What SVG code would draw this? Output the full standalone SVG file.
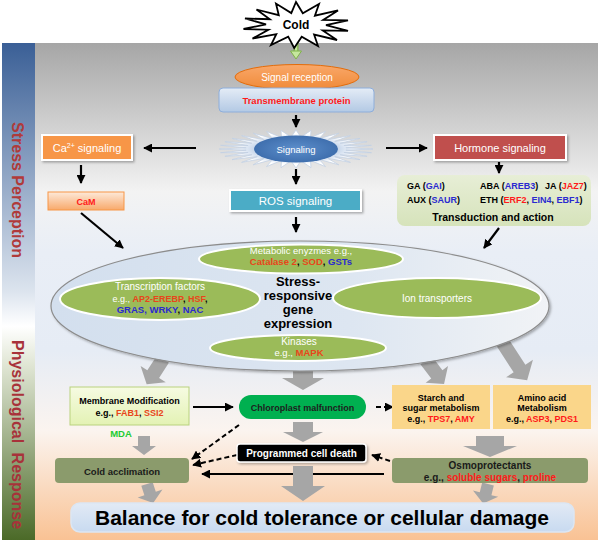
<svg xmlns="http://www.w3.org/2000/svg" width="600" height="542" viewBox="0 0 600 542">
<defs>
<style>
text{font-family:"Liberation Sans",Arial,sans-serif;}
.w{fill:#fff}
.c{text-anchor:middle}
.b{font-weight:bold}
.red{fill:#e8461b;font-weight:bold}
.rr{fill:#ff1a1a;font-weight:bold}
.bl{fill:#2a2ad0;font-weight:bold}
.k{fill:#000}
.line{stroke:#000;stroke-width:2.2;fill:none;marker-end:url(#ah)}
.dash{stroke:#000;stroke-width:2;fill:none;stroke-dasharray:5,3;marker-end:url(#ah)}
.ga{fill:#a6a6a6}
.gel{fill:#9bbb59;stroke:#fff;stroke-width:2}
.olive{fill:#8b9b6c}
</style>
<marker id="ah" viewBox="0 0 10 10" refX="9" refY="5" markerWidth="9" markerHeight="9" markerUnits="userSpaceOnUse" orient="auto"><path d="M0,0L10,5L0,10Z" fill="#000"/></marker>
<linearGradient id="bg" x1="0" y1="0" x2="0" y2="1">
<stop offset="0" stop-color="#a6a6a6"/><stop offset="0.3" stop-color="#f3f3f3"/><stop offset="0.42" stop-color="#e9eef6"/><stop offset="0.62" stop-color="#e6ecf5"/><stop offset="0.78" stop-color="#fbf4ef"/><stop offset="1" stop-color="#f9c294"/>
</linearGradient>
<linearGradient id="bar" x1="0" y1="0" x2="0" y2="1">
<stop offset="0" stop-color="#3a5f96"/><stop offset="0.5" stop-color="#dce4ee"/><stop offset="0.57" stop-color="#ffffff"/><stop offset="0.65" stop-color="#dfe5d3"/><stop offset="1" stop-color="#4b6a28"/>
</linearGradient>
<linearGradient id="tm" x1="0" y1="0" x2="0" y2="1"><stop offset="0" stop-color="#e4ecf6"/><stop offset="1" stop-color="#b3c9e4"/></linearGradient>
<linearGradient id="cam" x1="0" y1="0" x2="0" y2="1"><stop offset="0" stop-color="#fde9d9"/><stop offset="1" stop-color="#f8a96b"/></linearGradient>
<linearGradient id="sr" x1="0" y1="0" x2="0" y2="1"><stop offset="0" stop-color="#f9a86a"/><stop offset="1" stop-color="#f08a38"/></linearGradient>
<linearGradient id="mem" x1="0" y1="0" x2="0" y2="1"><stop offset="0" stop-color="#f6fbe2"/><stop offset="1" stop-color="#e3f2b4"/></linearGradient>
<linearGradient id="hp" x1="0" y1="0" x2="0" y2="1"><stop offset="0" stop-color="#e7eed6"/><stop offset="1" stop-color="#d6e3bb"/></linearGradient>
<linearGradient id="big" x1="0" y1="0" x2="1" y2="0"><stop offset="0" stop-color="#d3dfee"/><stop offset="0.6" stop-color="#dde6f1"/><stop offset="1" stop-color="#f1f3f6"/></linearGradient>
<linearGradient id="bal" x1="0" y1="0" x2="0" y2="1"><stop offset="0" stop-color="#e2eaf5"/><stop offset="1" stop-color="#c8daf0"/></linearGradient>
<radialGradient id="star"><stop offset="0.55" stop-color="#c9d8ec"/><stop offset="0.8" stop-color="#ffffff"/></radialGradient>
<radialGradient id="sig"><stop offset="0" stop-color="#5d8fcc"/><stop offset="1" stop-color="#3f6fae"/></radialGradient>
<filter id="sh" x="-10%" y="-20%" width="130%" height="150%"><feDropShadow dx="1.5" dy="1.5" stdDeviation="1" flood-color="#000" flood-opacity="0.3"/></filter>
</defs>

<g id="background">
<rect x="35" y="43" width="563" height="497" fill="url(#bg)"/>
<rect x="2" y="43" width="33" height="497" fill="url(#bar)"/>
<text transform="translate(12,122) rotate(90)" class="b" font-size="16" fill="#b03a3a">Stress Perception</text>
<text transform="translate(12,340) rotate(90)" class="b" font-size="16" fill="#a8323a" word-spacing="5">Physiological Response</text>
</g>

<g id="connectors">
<path d="M296,37V52" stroke="#7fb24a" stroke-width="5" fill="none"/>
<path d="M296,37V52" stroke="#c6e79e" stroke-width="2.5" fill="none"/>
<path d="M290.5,51H301.5L296,59Z" fill="#c6e79e" stroke="#7fb24a" stroke-width="1"/>
<path class="line" d="M296,115V127"/>
<path class="line" d="M196,148H144"/>
<path class="line" d="M386,148H427"/>
<path class="line" d="M81,165V183"/>
<path class="line" d="M296,169V184"/>
<path class="line" d="M296,217V232"/>
<path class="line" d="M499,162V173"/>
<path class="line" d="M81,213L123,248"/>
<path class="line" d="M499,228L484,248"/>
<path class="line" d="M193,407H233"/>
<path class="dash" d="M376,407H393"/>
<path class="dash" d="M239,425L192,459"/>
<path class="dash" d="M237,455L193,465"/>
<path class="dash" d="M390,461L372,455"/>
<path class="line" d="M384,474H202"/>
<g class="ga">
<path transform="translate(163,359) rotate(33)" d="M-7,0H7V18H15L0,30L-15,18H-7Z"/>
<path transform="translate(303,367)" d="M-10,0H10V11H21L0,23L-21,11H-10Z"/>
<path transform="translate(426,360) rotate(-37)" d="M-7,0H7V18H14L0,30L-14,18H-7Z"/>
<path transform="translate(501,340) rotate(-33)" d="M-7,0H7V34H16L0,48L-16,34H-7Z"/>
<path transform="translate(303,422)" d="M-10,0H10V10H20L0,20L-20,10H-10Z"/>
<path transform="translate(144,436)" d="M-6,0H6V10H12L0,19L-12,10H-6Z"/>
<path transform="translate(490,436)" d="M-14,0H14V10H27L0,21L-27,10H-14Z"/>
<path transform="translate(303,466)" d="M-10,0H10V20H22L0,35L-22,20H-10Z"/>
<path transform="translate(147,484) rotate(-18)" d="M-6,0H6V10H13L0,20L-13,10H-6Z"/>
<path transform="translate(488,484) rotate(14)" d="M-6,0H6V10H13L0,20L-13,10H-6Z"/>
</g>
</g>

<g id="cold">
<polygon points="296,2 302.8,13.3 319,4 314.9,15.7 338,10.4 323.2,19.9 348,20.4 326,25.2 348,30.8 322.7,30.4 337,40 314.1,34.6 318,46 301.7,36.8 294.2,48 288.2,36.6 271,45 276.3,34.1 252.5,38.5 268.4,29.7 243.5,29 266,24.4 245,18.5 269.8,19.2 256.5,9.5 278.8,15.2 276,3.6 291.3,13.1" fill="#fff" stroke="#000" stroke-width="1.8" stroke-linejoin="miter"/>
<text x="296" y="29" class="c b" font-size="12">Cold</text>
</g>

<g id="signal-reception">
<ellipse cx="297" cy="77" rx="62" ry="12.5" fill="url(#sr)" stroke="#e46c0a" stroke-width="1"/>
<text x="297" y="80.5" class="c w" font-size="10">Signal reception</text>
</g>

<g id="transmembrane">
<rect x="219" y="88" width="155" height="24" rx="4" fill="url(#tm)" stroke="#8eaedb" stroke-width="1"/>
<text x="296.5" y="103.5" class="c b" font-size="9.5" fill="#ff1a1a">Transmembrane protein</text>
</g>

<g id="signaling">
<polygon points="373,149 345.8,150.2 371.5,152.7 343.9,152.5 367.1,156.3 340.1,154.7 360,159.6 334.7,156.6 350.4,162.4 327.7,158.3 338.8,164.8 319.6,159.6 325.5,166.6 310.5,160.5 311,167.6 300.9,160.9 296,168 291.1,160.9 281,167.6 281.5,160.5 266.5,166.6 272.4,159.6 253.2,164.8 264.3,158.3 241.6,162.4 257.3,156.6 232,159.6 251.9,154.7 224.9,156.3 248.1,152.5 220.5,152.7 246.2,150.2 219,149 246.2,147.8 220.5,145.3 248.1,145.5 224.9,141.7 251.9,143.3 232,138.4 257.3,141.4 241.6,135.6 264.3,139.7 253.2,133.2 272.4,138.4 266.5,131.4 281.5,137.5 281,130.4 291.1,137.1 296,130 300.9,137.1 311,130.4 310.5,137.5 325.5,131.4 319.6,138.4 338.8,133.2 327.7,139.7 350.4,135.6 334.7,141.4 360,138.4 340.1,143.3 367.1,141.7 343.9,145.5 371.5,145.3 345.8,147.8" fill="url(#star)" stroke="#c3d1e3" stroke-width="0.8"/>
<ellipse cx="296" cy="149" rx="42" ry="13.5" fill="url(#sig)"/>
<text x="296" y="152.5" class="c w" font-size="9.5">Signaling</text>
</g>

<g id="ca-signaling">
<rect x="42" y="135" width="90" height="25" fill="#f79646" stroke="#fff" stroke-width="2" filter="url(#sh)"/>
<text x="87" y="152" class="c w" font-size="11">Ca<tspan font-size="7" dy="-4">2+</tspan><tspan dy="4"> signaling</tspan></text>
</g>

<g id="hormone-signaling">
<rect x="434" y="135" width="132" height="25" fill="#c0504d" stroke="#fff" stroke-width="2" filter="url(#sh)"/>
<text x="500" y="152" class="c w" font-size="11">Hormone signaling</text>
</g>

<g id="cam">
<rect x="48" y="192" width="76" height="18" fill="url(#cam)" stroke="#f79646" stroke-width="1"/>
<text x="86" y="204.5" class="c b" font-size="9" fill="#ff1a1a">CaM</text>
</g>

<g id="ros-signaling">
<rect x="230" y="190" width="131" height="21" fill="#4bacc6" stroke="#fff" stroke-width="2" filter="url(#sh)"/>
<text x="295.5" y="204.5" class="c w" font-size="11.5">ROS signaling</text>
</g>

<g id="hormone-panel">
<rect x="397" y="175" width="194" height="51" rx="8" fill="url(#hp)"/>
<text x="407" y="188.5" class="b" font-size="9">GA (<tspan class="bl">GAI</tspan>)</text>
<text x="480" y="188.5" class="b" font-size="9">ABA (<tspan class="bl">AREB3</tspan>)</text>
<text x="545" y="188.5" class="b" font-size="9">JA (<tspan class="rr">JAZ7</tspan>)</text>
<text x="407" y="202.5" class="b" font-size="9">AUX (<tspan class="bl">SAUR</tspan>)</text>
<text x="480" y="202.5" class="b" font-size="9">ETH (<tspan class="rr">ERF2</tspan>, <tspan class="bl">EIN4</tspan>, <tspan class="bl">EBF1</tspan>)</text>
<text x="493" y="221" class="c b" font-size="10.5">Transduction and action</text>
</g>

<g id="gene-expression">
<ellipse cx="300" cy="306" rx="249" ry="65" fill="url(#big)" stroke="#8c8c8c" stroke-width="1.2" filter="url(#sh)"/>
<text x="298" y="286" class="c b" font-size="13">Stress-</text>
<text x="298" y="300" class="c b" font-size="13">responsive</text>
<text x="298" y="314" class="c b" font-size="13">gene</text>
<text x="298" y="328" class="c b" font-size="13">expression</text>
</g>

<g id="metabolic-enzymes">
<ellipse cx="301" cy="259" rx="102" ry="14.5" class="gel"/>
<text x="301" y="253.5" class="c w" font-size="9.5">Metabolic enyzmes e.g.,</text>
<text x="301" y="265" class="c b" font-size="9.5"><tspan class="red">Catalase 2</tspan>, <tspan class="red">SOD</tspan>, <tspan class="bl">GSTs</tspan></text>
</g>

<g id="transcription-factors">
<ellipse cx="160" cy="299" rx="100" ry="21" class="gel"/>
<text x="160" y="290" class="c w" font-size="10">Transcription factors</text>
<text x="160" y="301.5" class="c b" font-size="9"><tspan class="w" font-weight="normal">e.g.,  </tspan><tspan class="red">AP2-EREBP</tspan>, <tspan class="red">HSF</tspan>,</text>
<text x="160" y="312.5" class="c b" font-size="9.5"><tspan class="bl">GRAS, WRKY</tspan>, <tspan class="bl">NAC</tspan></text>
</g>

<g id="ion-transporters">
<ellipse cx="437" cy="298" rx="104" ry="20" class="gel"/>
<text x="437" y="301.5" class="c w" font-size="10">Ion transporters</text>
</g>

<g id="kinases">
<ellipse cx="298" cy="348" rx="88" ry="13" class="gel"/>
<text x="299" y="345" class="c w" font-size="10">Kinases</text>
<text x="299" y="356" class="c" font-size="9.5"><tspan class="w">e.g., </tspan><tspan class="red">MAPK</tspan></text>
</g>

<g id="membrane-modification">
<rect x="70" y="387" width="119" height="38" fill="url(#mem)" stroke="#b9d27e" stroke-width="1"/>
<text x="129.5" y="404" class="c b" font-size="9">Membrane  Modification</text>
<text x="129.5" y="415.5" class="c b" font-size="9">e.g., <tspan class="red">FAB1</tspan>, <tspan class="red">SSI2</tspan></text>
</g>

<g id="mda">
<text x="121" y="436.5" class="c b" font-size="9.5" fill="#22cc33">MDA</text>
</g>

<g id="chloroplast">
<rect x="239" y="395" width="127" height="24" rx="12" fill="#00b050"/>
<text x="302.5" y="410.5" class="c b" font-size="9" fill="#1e1e1e">Chloroplast malfunction</text>
</g>

<g id="starch">
<rect x="392" y="385" width="98" height="44" fill="#fad68a"/>
<text x="441" y="400.5" class="c b" font-size="9">Starch and</text>
<text x="441" y="410.5" class="c b" font-size="9">sugar metabolism</text>
<text x="441" y="421.5" class="c b" font-size="9">e.g., <tspan class="rr">TPS7</tspan>, <tspan class="rr">AMY</tspan></text>
</g>

<g id="amino-acid">
<rect x="493" y="385" width="98" height="44" fill="#fad68a"/>
<text x="542" y="400.5" class="c b" font-size="9">Amino acid</text>
<text x="542" y="410.5" class="c b" font-size="9">Metabolism</text>
<text x="542" y="421.5" class="c b" font-size="9">e.g., <tspan class="rr">ASP3</tspan>, <tspan class="rr">PDS1</tspan></text>
</g>

<g id="programmed-cell-death">
<rect x="237" y="444" width="129" height="18" rx="3" fill="#000" stroke="#fff" stroke-width="1.5" filter="url(#sh)"/>
<text x="301.5" y="456.5" class="c b w" font-size="10">Programmed cell death</text>
</g>

<g id="cold-acclimation">
<rect x="55" y="458" width="134" height="25" rx="4" class="olive"/>
<text x="122" y="474.5" class="c b" font-size="9.5" fill="#1a1a1a">Cold acclimation</text>
</g>

<g id="osmoprotectants">
<rect x="392" y="458" width="196" height="25" rx="4" class="olive"/>
<text x="490" y="468.5" class="c b" font-size="10" fill="#1a1a1a">Osmoprotectants</text>
<text x="490" y="480.5" class="c b" font-size="10" fill="#1a1a1a">e.g., <tspan class="rr">soluble sugars</tspan>, <tspan class="rr">proline</tspan></text>
</g>

<g id="balance">
<rect x="71" y="503" width="503" height="29" rx="9" fill="url(#bal)" stroke="#dbe6f3" stroke-width="1.5"/>
<text x="322" y="525" class="c b" font-size="21">Balance for cold tolerance or cellular damage</text>
</g>
</svg>
